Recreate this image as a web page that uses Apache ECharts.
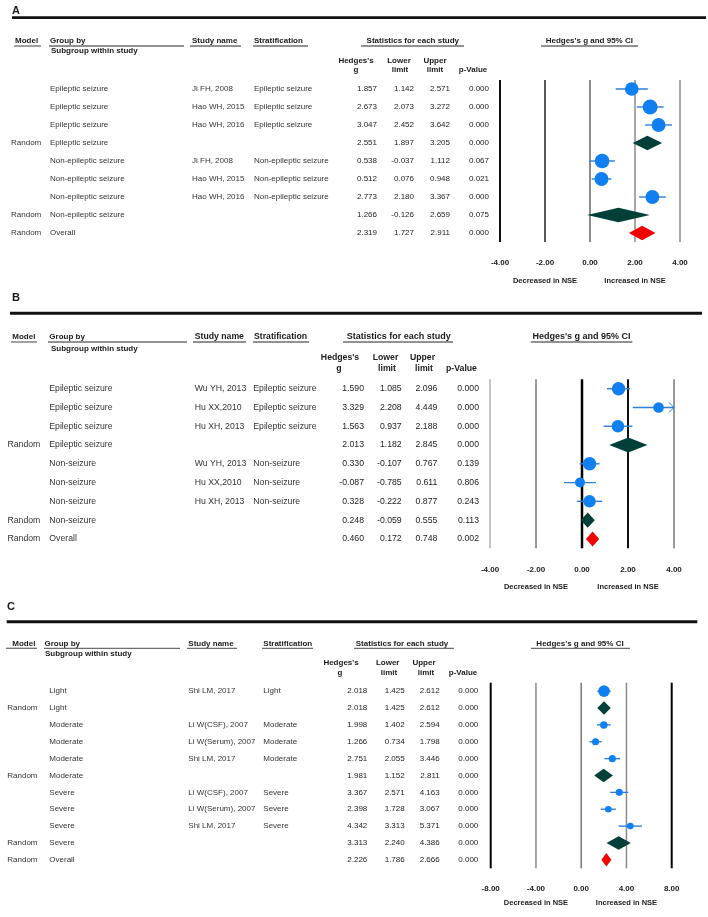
<!DOCTYPE html>
<html><head><meta charset="utf-8">
<script src="https://cdn.jsdelivr.net/npm/echarts@6/dist/echarts.min.js"></script>
<style>html,body{margin:0;padding:0;background:#fff}#c{width:708px;height:917px}</style>
</head><body><div id="c"></div>
<script>
// ---------- Panel A data ----------
const modelA = ['', '', '', 'Random', '', '', '', 'Random', 'Random'];
const groupA = ['Epileptic seizure', 'Epileptic seizure', 'Epileptic seizure', 'Epileptic seizure',
  'Non-epileptic seizure', 'Non-epileptic seizure', 'Non-epileptic seizure', 'Non-epileptic seizure', 'Overall'];
const studyA = ['Ji FH, 2008', 'Hao WH, 2015', 'Hao WH, 2016', '', 'Ji FH, 2008', 'Hao WH, 2015', 'Hao WH, 2016', '', ''];
const stratA = ['Epileptic seizure', 'Epileptic seizure', 'Epileptic seizure', '',
  'Non-epileptic seizure', 'Non-epileptic seizure', 'Non-epileptic seizure', '', ''];
const gA = [1.857, 2.673, 3.047, 2.551, 0.538, 0.512, 2.773, 1.266, 2.319];
const lowerA = [1.142, 2.073, 2.452, 1.897, -0.037, 0.076, 2.180, -0.126, 1.727];
const upperA = [2.571, 3.272, 3.642, 3.205, 1.112, 0.948, 3.367, 2.659, 2.911];
const pA = ['0.000', '0.000', '0.000', '0.000', '0.067', '0.021', '0.000', '0.075', '0.000'];
const kindA = ['study', 'study', 'study', 'subgroup', 'study', 'study', 'study', 'subgroup', 'overall'];
const weightA = [30, 36, 31, null, 34, 31, 31, null, null];
const ticksA = [-4, -2, 0, 2, 4];

// ---------- Panel B data ----------
const modelB = ['', '', '', 'Random', '', '', '', 'Random', 'Random'];
const groupB = ['Epileptic seizure', 'Epileptic seizure', 'Epileptic seizure', 'Epileptic seizure',
  'Non-seizure', 'Non-seizure', 'Non-seizure', 'Non-seizure', 'Overall'];
const studyB = ['Wu YH, 2013', 'Hu XX,2010', 'Hu XH, 2013', '', 'Wu YH, 2013', 'Hu XX,2010', 'Hu XH, 2013', '', ''];
const stratB = ['Epileptic seizure', 'Epileptic seizure', 'Epileptic seizure', '',
  'Non-seizure', 'Non-seizure', 'Non-seizure', '', ''];
const gB = [1.590, 3.329, 1.563, 2.013, 0.330, -0.087, 0.328, 0.248, 0.460];
const lowerB = [1.085, 2.208, 0.937, 1.182, -0.107, -0.785, -0.222, -0.059, 0.172];
const upperB = [2.096, 4.449, 2.188, 2.845, 0.767, 0.611, 0.877, 0.555, 0.748];
const pB = ['0.000', '0.000', '0.000', '0.000', '0.139', '0.806', '0.243', '0.113', '0.002'];
const kindB = ['study', 'study', 'study', 'subgroup', 'study', 'study', 'study', 'subgroup', 'overall'];
const weightB = [29, 18, 25, null, 29, 16, 25, null, null];
const ticksB = [-4, -2, 0, 2, 4];

// ---------- Panel C data ----------
const modelC = ['', 'Random', '', '', '', 'Random', '', '', '', 'Random', 'Random'];
const groupC = ['Light', 'Light', 'Moderate', 'Moderate', 'Moderate', 'Moderate', 'Severe', 'Severe', 'Severe', 'Severe', 'Overall'];
const studyC = ['Shi LM, 2017', '', 'Li W(CSF), 2007', 'Li W(Serum), 2007', 'Shi LM, 2017', '',
  'Li W(CSF), 2007', 'Li W(Serum), 2007', 'Shi LM, 2017', '', ''];
const stratC = ['Light', '', 'Moderate', 'Moderate', 'Moderate', '', 'Severe', 'Severe', 'Severe', '', ''];
const gC = [2.018, 2.018, 1.998, 1.266, 2.751, 1.981, 3.367, 2.398, 4.342, 3.313, 2.226];
const lowerC = [1.425, 1.425, 1.402, 0.734, 2.055, 1.152, 2.571, 1.728, 3.313, 2.240, 1.786];
const upperC = [2.612, 2.612, 2.594, 1.798, 3.446, 2.811, 4.163, 3.067, 5.371, 4.386, 2.666];
const pC = ['0.000', '0.000', '0.000', '0.000', '0.000', '0.000', '0.000', '0.000', '0.000', '0.000', '0.000'];
const kindC = ['study', 'subgroup', 'study', 'study', 'study', 'subgroup', 'study', 'study', 'study', 'subgroup', 'overall'];
const weightC = [21.5, null, 9, 8, 8, null, 8, 7, 7, null, null];
const ticksC = [-8, -4, 0, 4, 8];

const noteLeft = 'Decreased in NSE';
const noteRight = 'Increased in NSE';

// ---------- styling / layout ----------
const FONT = '"Liberation Sans", Arial, Helvetica, sans-serif';
const BLUE = '#0F7FF2', CI = '#2F7FD6', GREEN = '#023F39', RED = '#F20000';

const panels = [
  { model: modelA, group: groupA, study: studyA, strat: stratA, g: gA, lo: lowerA, hi: upperA, p: pA, kind: kindA, w: weightA, ticks: ticksA,
    grid: { left: 500, top: 80, width: 180, height: 162 },
    cols: { model: 11, group: 50, study: 192, strat: 254, g: 377, lo: 414, hi: 450, p: 489 },
    vstyle: [['#111', 2], ['#222', 1.5], ['#666', 1.5], ['#8a8a8a', 1.5], ['#8a8a8a', 1.5]],
    labelMargin: 17, noteOffset: 39, fs: 8 },
  { model: modelB, group: groupB, study: studyB, strat: stratB, g: gB, lo: lowerB, hi: upperB, p: pB, kind: kindB, w: weightB, ticks: ticksB,
    grid: { left: 490, top: 379.3, width: 184, height: 169 },
    cols: { model: 7.5, group: 49.3, study: 194.7, strat: 253.3, g: 364, lo: 401.7, hi: 437.3, p: 479 },
    vstyle: [['#8a8a8a', 1], ['#333', 1], ['#000', 2.5], ['#111', 2], ['#333', 1]],
    labelMargin: 17.5, noteOffset: 39, fs: 8.7 },
  { model: modelC, group: groupC, study: studyC, strat: stratC, g: gC, lo: lowerC, hi: upperC, p: pC, kind: kindC, w: weightC, ticks: ticksC,
    grid: { left: 490.7, top: 682.7, width: 181, height: 185.6 },
    cols: { model: 7.3, group: 49.3, study: 188.3, strat: 263.3, g: 367.3, lo: 404.7, hi: 439.7, p: 478.3 },
    vstyle: [['#000', 2], ['#8a8a8a', 1.5], ['#777', 1.5], ['#8a8a8a', 1.5], ['#000', 2]],
    labelMargin: 16, noteOffset: 34.4, fs: 8 }
];

function T(text, x, y, o) {
  o = o || {};
  return { type: 'text', x: x, y: y, silent: true, z: 10,
    style: { text: text, fill: o.c || '#1a1a1a', fontSize: o.fs || 8, fontWeight: o.n ? 'normal' : 'bold',
      fontFamily: FONT, align: o.a || 'left', verticalAlign: 'middle' } };
}
function L(x1, x2, y, w, c) {
  return { type: 'line', silent: true, z: 10, shape: { x1: x1, y1: y, x2: x2, y2: y },
    style: { stroke: c || '#6e6e6e', lineWidth: w || 1.3 } };
}
const C = { a: 'center' };

const graphics = [
  // Panel A
  T('A', 12, 10.5, { fs: 11 }), L(12, 706, 17.7, 2.7, '#111'),
  T('Model', 15, 41), T('Group by', 50, 41), T('Study name', 192, 41), T('Stratification', 254, 41),
  T('Statistics for each study', 412.8, 41, C), T("Hedges's g and 95% CI", 589.3, 41, C),
  L(14, 41, 46), L(49, 184, 46), L(190, 241, 46), L(253, 308, 46), L(361, 464, 46), L(541, 638, 46),
  T('Subgroup within study', 51, 51),
  T("Hedges's", 356, 61, C), T('g', 356, 70, C), T('Lower', 399, 61, C), T('limit', 400, 70, C),
  T('Upper', 435, 61, C), T('limit', 435, 70, C), T('p-Value', 473, 70, C),
  // Panel B
  T('B', 12, 298, { fs: 11 }), L(10, 702, 313.3, 3, '#111'),
  T('Model', 12.3, 336.7), T('Group by', 49.3, 336.7), T('Study name', 194.7, 336.7, { fs: 8.7 }), T('Stratification', 254, 336.7, { fs: 8.7 }),
  T('Statistics for each study', 398.7, 336.7, { a: 'center', fs: 9 }), T("Hedges's g and 95% CI", 581.5, 336.7, { a: 'center', fs: 9 }),
  L(11, 37, 342), L(48, 187, 342), L(193, 246, 342), L(253, 309, 342), L(343, 453, 342), L(530.7, 632.3, 342),
  T('Subgroup within study', 51, 348.3),
  T("Hedges's", 340, 357.5, { a: 'center', fs: 8.7 }), T('g', 339, 369, { a: 'center', fs: 8.7 }),
  T('Lower', 385.5, 357.5, { a: 'center', fs: 8.7 }), T('limit', 387, 369, { a: 'center', fs: 8.7 }),
  T('Upper', 422.5, 357.5, { a: 'center', fs: 8.7 }), T('limit', 424, 369, { a: 'center', fs: 8.7 }),
  T('p-Value', 461.5, 369, { a: 'center', fs: 8.7 }),
  // Panel C
  T('C', 7, 607, { fs: 11 }), L(6.7, 697.3, 621.7, 3, '#111'),
  T('Model', 12.3, 643.3), T('Group by', 44.5, 643.3), T('Study name', 188.3, 643.3), T('Stratification', 263.3, 643.3),
  T('Statistics for each study', 402, 644, C), T("Hedges's g and 95% CI", 580, 644, C),
  L(6, 37, 648.3), L(44, 180, 648.3), L(187, 237, 648.3), L(262, 313, 648.3), L(354, 454, 648.3), L(531, 630, 648.3),
  T('Subgroup within study', 45, 653.3),
  T("Hedges's", 341, 663, C), T('g', 340, 673, C), T('Lower', 387.7, 663, C), T('limit', 389, 672.5, C),
  T('Upper', 424, 663, C), T('limit', 426, 672.5, C), T('p-Value', 463, 672.5, C)
];

function vlineRender(P) {
  return function (params, api) {
    const cs = params.coordSys;
    const i = params.dataIndex;
    const x = api.coord([P.ticks[i], 0])[0];
    const st = P.vstyle[i];
    const ch = [{ type: 'line', shape: { x1: x, y1: cs.y, x2: x, y2: cs.y + cs.height },
      style: { stroke: st[0], lineWidth: st[1] } }];
    const yb = cs.y + cs.height + P.noteOffset;
    const font = { fontSize: 7.5, fontWeight: 'bold', fontFamily: FONT, fill: '#1a1a1a', align: 'center', verticalAlign: 'middle' };
    if (i === 1) ch.push({ type: 'text', x: x, y: yb, style: Object.assign({ text: noteLeft }, font) });
    if (i === 3) ch.push({ type: 'text', x: x, y: yb, style: Object.assign({ text: noteRight }, font) });
    return { type: 'group', children: ch };
  };
}

function markRender(P) {
  return function (params, api) {
    const i = params.dataIndex;
    const cs = params.coordSys;
    const band = api.size([0, 1])[1];
    const pt = api.coord([P.g[i], i]);
    const xg = pt[0], y = pt[1];
    const xl = api.coord([P.lo[i], i])[0], xh = api.coord([P.hi[i], i])[0];
    const xmin = cs.x, xmax = cs.x + cs.width;
    if (P.kind[i] === 'study') {
      const a = Math.max(xl, xmin), b = Math.min(xh, xmax);
      const ch = [{ type: 'line', shape: { x1: a, y1: y, x2: b, y2: y }, style: { stroke: CI, lineWidth: 1.4 } }];
      if (xh > xmax) ch.push({ type: 'polyline', shape: { points: [[b - 5, y - 5], [b, y], [b - 5, y + 5]] },
        style: { stroke: CI, lineWidth: 1, fill: null } });
      const r = 1.25 * Math.sqrt(P.w[i]);
      ch.push({ type: 'circle', shape: { cx: xg, cy: y, r: r }, style: { fill: BLUE } });
      return { type: 'group', children: ch };
    }
    const h = band * 0.4;
    return { type: 'polygon', shape: { points: [[xl, y], [xg, y - h], [xh, y], [xg, y + h]] },
      style: { fill: P.kind[i] === 'overall' ? RED : GREEN } };
  };
}

function tableRender(P) {
  return function (params, api) {
    const i = params.dataIndex;
    const y = api.coord([P.ticks[0], i])[1];
    const c = P.cols;
    const base = { fontSize: P.fs, fontFamily: FONT, verticalAlign: 'middle' };
    const txt = (s, x, align, col) => ({ type: 'text', x: x, y: y,
      style: Object.assign({ text: s, align: align, fill: col }, base) });
    return { type: 'group', children: [
      txt(P.model[i], c.model, 'left', '#333'),
      txt(P.group[i], c.group, 'left', '#333'),
      txt(P.study[i], c.study, 'left', '#333'),
      txt(P.strat[i], c.strat, 'left', '#333'),
      txt(P.g[i].toFixed(3), c.g, 'right', '#222'),
      txt(P.lo[i].toFixed(3), c.lo, 'right', '#222'),
      txt(P.hi[i].toFixed(3), c.hi, 'right', '#222'),
      txt(P.p[i], c.p, 'right', '#222')
    ] };
  };
}

const option = { animation: false, backgroundColor: '#fff', grid: [], xAxis: [], yAxis: [], series: [], graphic: graphics };
panels.forEach((P, k) => {
  option.grid.push(Object.assign({ containLabel: false }, P.grid));
  option.xAxis.push({ type: 'value', gridIndex: k, min: P.ticks[0], max: P.ticks[P.ticks.length - 1],
    interval: P.ticks[1] - P.ticks[0],
    axisLine: { show: false }, axisTick: { show: false }, splitLine: { show: false },
    axisLabel: { margin: P.labelMargin, fontSize: 8, fontWeight: 'bold', color: '#1a1a1a', fontFamily: FONT,
      formatter: v => v.toFixed(2) } });
  option.yAxis.push({ type: 'category', gridIndex: k, inverse: true, show: false,
    data: P.g.map((v, i) => String(i)) });
  option.series.push({ type: 'custom', xAxisIndex: k, yAxisIndex: k, z: 1, silent: true,
    data: P.ticks.map(v => [v, 0]), renderItem: vlineRender(P) });
  option.series.push({ type: 'custom', xAxisIndex: k, yAxisIndex: k, z: 3, silent: true,
    data: P.g.map((v, i) => [v, i]), renderItem: markRender(P) });
  option.series.push({ type: 'custom', xAxisIndex: k, yAxisIndex: k, z: 4, silent: true,
    data: P.g.map((v, i) => [P.ticks[0], i]), renderItem: tableRender(P) });
});

const chart = echarts.init(document.getElementById('c'), null, { renderer: 'canvas' });
chart.setOption(option);
</script>
</body></html>
